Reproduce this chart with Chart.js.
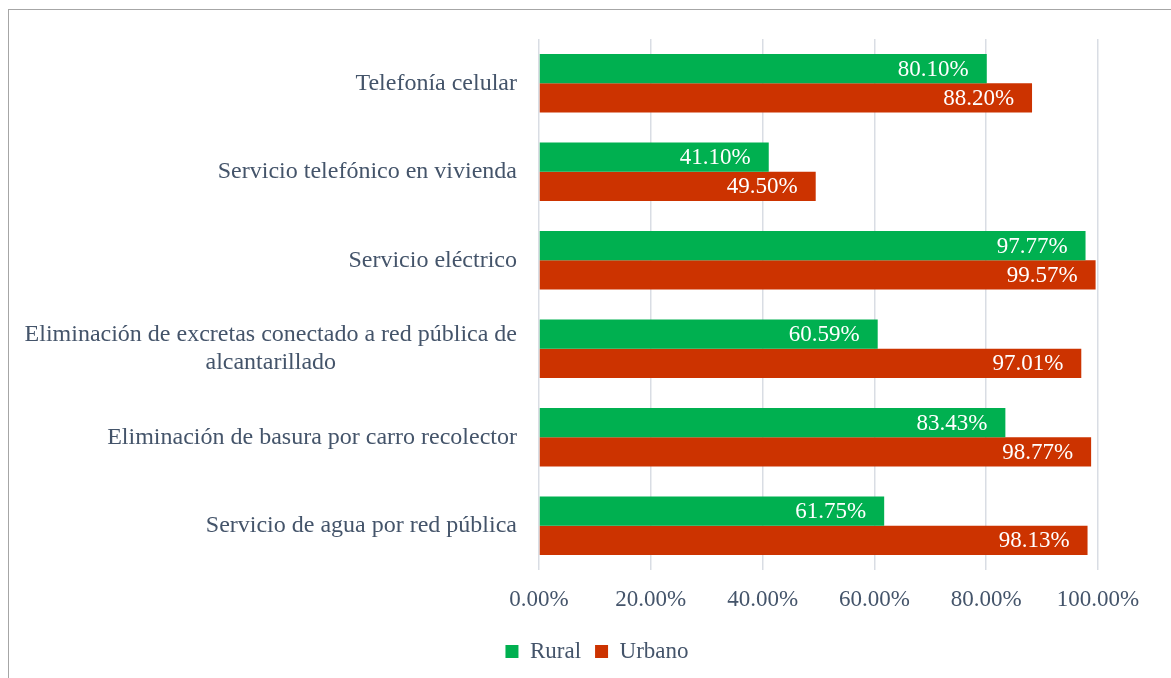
<!DOCTYPE html>
<html>
<head>
<meta charset="utf-8">
<script src="https://cdn.jsdelivr.net/npm/chart.js@4/dist/chart.umd.min.js"></script>
<style>
  html, body { margin: 0; padding: 0; background: #fff; overflow: hidden; }
  #wrap { position: absolute; left: 0; top: 0; width: 1171px; height: 678px; }
  #frame { position: absolute; left: 8px; top: 9px; width: 1200px; height: 700px;
           border-left: 1px solid #a6a6a6; border-top: 1px solid #a6a6a6; }
  #warm { position: absolute; left: -999px; top: 0; font: 23px 'Liberation Serif', serif; }
</style>
</head>
<body>
<div id="warm">Telefonía 0.00%</div>
<div id="frame"></div>
<div id="wrap"><canvas id="myChart"></canvas></div>
<script>
const categories = [
    'Telefonía celular',
    'Servicio telefónico en vivienda',
    'Servicio eléctrico',
    ['Eliminación de excretas conectado a red pública de', 'alcantarillado'],
    'Eliminación de basura por carro recolector',
    'Servicio de agua por red pública'
];
const rural = [80.10, 41.10, 97.77, 60.59, 83.43, 61.75];
const urbano = [88.20, 49.50, 99.57, 97.01, 98.77, 98.13];
const xTicks = [0, 20, 40, 60, 80, 100];

const FONT = "'Liberation Serif', serif";
const TEXT = '#44546a';

// value labels inside the end of each bar
const barValues = {
    id: 'barValues',
    afterDatasetsDraw(chart) {
        const ctx = chart.ctx;
        ctx.save();
        ctx.font = '23px ' + FONT;
        ctx.fillStyle = '#ffffff';
        ctx.textAlign = 'right';
        ctx.textBaseline = 'middle';
        chart.data.datasets.forEach((ds, i) => {
            chart.getDatasetMeta(i).data.forEach((bar, j) => {
                ctx.fillText(ds.data[j].toFixed(2) + '%', bar.x - 18, bar.y + 1);
            });
        });
        ctx.restore();
    }
};

// category labels: right aligned block, wrapped lines centred inside it
const catLabels = {
    id: 'catLabels',
    afterDraw(chart) {
        const ctx = chart.ctx;
        const y = chart.scales.y;
        const right = chart.chartArea.left - 22;
        const lh = 28;
        ctx.save();
        ctx.font = '24px ' + FONT;
        ctx.fillStyle = TEXT;
        ctx.textAlign = 'center';
        ctx.textBaseline = 'middle';
        categories.forEach((c, i) => {
            const lines = Array.isArray(c) ? c : [c];
            const w = Math.max(...lines.map(l => ctx.measureText(l).width));
            const cx = right - w / 2;
            const cy = y.getPixelForValue(i);
            lines.forEach((l, k) => {
                ctx.fillText(l, cx, cy + (k - (lines.length - 1) / 2) * lh);
            });
        });
        ctx.restore();
    }
};

function draw() {
    const ctx = document.getElementById('myChart').getContext('2d');
    new Chart(ctx, {
        type: 'bar',
        data: {
            labels: categories,
            datasets: [{
                label: 'Rural',
                data: rural,
                backgroundColor: '#00b050'
            }, {
                label: 'Urbano',
                data: urbano,
                backgroundColor: '#cc3300'
            }]
        },
        plugins: [barValues, catLabels],
        options: {
            indexAxis: 'y',
            responsive: true,
            maintainAspectRatio: false,
            animation: false,
            layout: {
                padding: { left: 96, right: 73, top: 39, bottom: 5 }
            },
            datasets: {
                bar: { barPercentage: 1, categoryPercentage: 0.66 }
            },
            scales: {
                x: {
                    min: 0,
                    max: 100,
                    afterBuildTicks(scale) {
                        scale.ticks = xTicks.map(v => ({ value: v }));
                    },
                    afterFit(scale) { scale.height = 56; },
                    grid: { color: '#d9dde4', lineWidth: 1.5, drawTicks: false },
                    border: { display: false },
                    ticks: {
                        padding: 16,
                        color: TEXT,
                        font: { family: FONT, size: 23 },
                        callback: v => v.toFixed(2) + '%'
                    }
                },
                y: {
                    afterFit(scale) { scale.width = 443; },
                    grid: { display: false },
                    border: { display: false },
                    ticks: { display: false }
                }
            },
            plugins: {
                tooltip: { enabled: false },
                legend: {
                    position: 'bottom',
                    labels: {
                        boxWidth: 13,
                        boxHeight: 13,
                        padding: 14,
                        color: TEXT,
                        font: { family: FONT, size: 23 }
                    }
                }
            }
        }
    });
}

document.fonts.load("23px 'Liberation Serif'").then(draw, draw);
</script>
</body>
</html>
